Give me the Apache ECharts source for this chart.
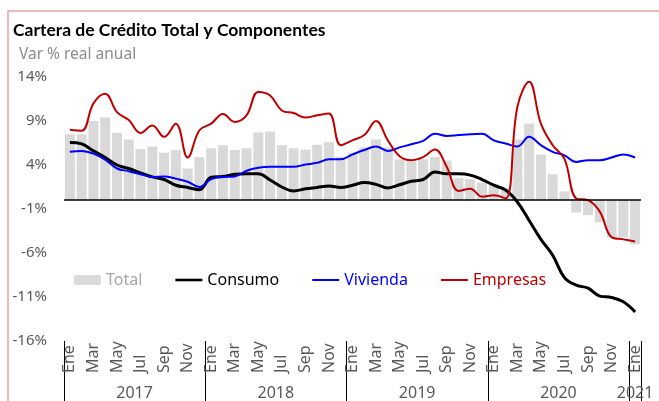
<!DOCTYPE html>
<html>
<head>
<meta charset="utf-8">
<script src="https://cdn.jsdelivr.net/npm/echarts@6/dist/echarts.min.js"></script>
<style>
  html, body { margin: 0; padding: 0; background: #fff; }
  #chart { width: 659px; height: 401px; }
</style>
</head>
<body>
<div id="chart"></div>
<script>
// meses Ene 2017 - Ene 2021
var monthNames = ['Ene', 'Feb', 'Mar', 'Abr', 'May', 'Jun', 'Jul', 'Ago', 'Sep', 'Oct', 'Nov', 'Dic']
var years = ['2017', '2018', '2019', '2020', '2021']
var months = []
for (var y = 0; y < 4; y++) {
  months = months.concat(monthNames)
}
months.push('Ene')

var yTicks = [-16, -11, -6, -1, 4, 9, 14]

var total = [
  7.5, 7.5, 9.0, 9.4, 7.65, 6.9, 5.8, 6.1, 5.4, 5.7, 3.6, 4.9,
  5.9, 6.25, 5.7, 5.9, 7.7, 7.8, 6.25, 5.9, 5.75, 6.3, 6.6, 4.9,
  5.4, 6.0, 6.9, 6.0, 4.65, 4.4, 4.65, 4.9, 4.5, 2.5, 2.4, 2.0,
  1.8, 1.3, 6.9, 8.7, 5.2, 2.95, 1.0, -1.4, -1.7, -2.5, -4.2, -4.2,
  -5.0
]
var consumo = [
  6.55, 6.4, 5.6, 4.85, 4.0, 3.6, 3.1, 2.65, 2.35, 1.7, 1.45, 1.2,
  2.6, 2.7, 2.95, 3.0, 3.0, 2.3, 1.5, 1.05, 1.3, 1.45, 1.6, 1.45,
  1.7, 2.0, 1.8, 1.4, 1.75, 2.15, 2.35, 3.2, 3.0, 3.0, 2.85, 2.35,
  1.7, 1.15, -0.2, -2.3, -4.45, -6.25, -8.8, -9.65, -10.0, -10.9, -11.05, -11.55,
  -12.7
]
var vivienda = [
  5.5, 5.6, 5.3, 4.6, 3.6, 3.3, 2.95, 2.65, 2.7, 2.45, 2.1, 1.5,
  2.4, 2.65, 2.7, 3.35, 3.7, 3.8, 3.8, 3.8, 4.05, 4.25, 4.65, 4.65,
  5.2, 5.7, 6.1, 5.6, 6.0, 6.35, 6.75, 7.55, 7.3, 7.4, 7.5, 7.55,
  6.8, 6.45, 6.1, 7.2, 6.25, 5.5, 5.1, 4.35, 4.55, 4.55, 4.85, 5.2,
  4.85
]
var empresas = [
  8.0, 7.9, 11.0, 12.1, 10.0, 9.1, 7.65, 8.5, 7.2, 8.7, 4.85, 7.95,
  8.7, 9.8, 8.9, 9.65, 12.3, 11.9, 10.2, 9.9, 9.4, 9.65, 9.85, 6.25,
  6.8, 7.4, 9.0, 6.8, 5.0, 4.55, 4.9, 5.75, 3.8, 1.05, 1.3, 0.4,
  0.55, 0.2, 10.6, 13.45, 8.7, 6.25, 4.7, 0.2, 0.0, -1.3, -4.2, -4.45,
  -4.7
]

var axisFont = 'Noto Sans'
var labelGrey = '#595959'
// icono de linea para la leyenda
var lineIcon = 'path://M0,0 H27 V2 H0 Z'
var thickLineIcon = 'path://M0,0 H27 V2.6 H0 Z'

var chart = echarts.init(document.getElementById('chart'))

chart.setOption({
  animation: false,
  graphic: [
    {
      type: 'polyline',
      silent: true,
      shape: { points: [[8, 401], [8, 11], [659, 11]] },
      style: { stroke: '#e8a3a3', lineWidth: 1.5, fill: null }
    }
  ],
  title: [
    {
      text: 'Cartera de Crédito Total y Componentes',
      left: 8,
      top: 16,
      textStyle: { fontFamily: 'Lato', fontWeight: 'bold', fontSize: 17.5, color: '#000' }
    },
    {
      text: 'Var % real anual',
      left: 14,
      top: 42,
      textStyle: { fontFamily: axisFont, fontWeight: 'normal', fontSize: 15.5, color: '#8c8c8c' }
    }
  ],
  legend: {
    left: 69,
    top: 267,
    itemWidth: 27,
    itemHeight: 10,
    itemGap: 33,
    textStyle: { fontFamily: axisFont, fontSize: 16 },
    data: [
      { name: 'Total', textStyle: { color: '#a6a6a6' } },
      { name: 'Consumo', icon: thickLineIcon, textStyle: { color: '#000' } },
      { name: 'Vivienda', icon: lineIcon, textStyle: { color: '#0000ff' } },
      { name: 'Empresas', icon: lineIcon, textStyle: { color: '#c00000' } }
    ]
  },
  grid: {
    left: 64,
    right: 18,
    top: 77,
    bottom: 60
  },
  xAxis: [
    {
      type: 'category',
      data: months,
      position: 'bottom',
      boundaryGap: true,
      axisLine: { show: false, onZero: false },
      axisTick: {
        show: true,
        length: 62,
        interval: function (i) { return i % 12 === 0 },
        lineStyle: { color: '#000', width: 1 }
      },
      axisLabel: {
        interval: 1,
        rotate: 90,
        align: 'left',
        margin: 32,
        color: labelGrey,
        fontFamily: axisFont,
        fontSize: 16
      }
    },
    {
      type: 'category',
      data: months,
      position: 'bottom',
      offset: 0,
      axisLine: { show: false, onZero: false },
      axisTick: { show: false },
      axisLabel: {
        interval: 0,
        margin: 44,
        color: labelGrey,
        fontFamily: axisFont,
        fontSize: 16,
        formatter: function (v, i) {
          if (i % 12 === 6) return '{y|' + years[Math.floor(i / 12)] + '}'
          if (i === 48) return '{z|' + years[4] + '}'
          return ''
        },
        rich: {
          y: { padding: [0, 12, 0, 0], color: labelGrey, fontFamily: axisFont, fontSize: 16 },
          z: { color: labelGrey, fontFamily: axisFont, fontSize: 16 }
        }
      }
    }
  ],
  yAxis: {
    type: 'value',
    min: yTicks[0],
    max: yTicks[yTicks.length - 1],
    interval: 5,
    splitLine: { show: false },
    axisLine: { show: false },
    axisTick: { show: false },
    axisLabel: {
      customValues: yTicks,
      margin: 17,
      color: labelGrey,
      fontFamily: axisFont,
      fontSize: 15,
      formatter: '{value}%'
    }
  },
  series: [
    {
      name: 'Total',
      type: 'bar',
      data: total,
      barCategoryGap: '15%',
      itemStyle: { color: '#d9d9d9' },
      markLine: {
        silent: true,
        symbol: 'none',
        label: { show: false },
        lineStyle: { color: '#000', width: 1.5, type: 'solid' },
        data: [{ yAxis: 0 }]
      }
    },
    {
      name: 'Consumo',
      type: 'line',
      data: consumo,
      smooth: 0.4,
      symbol: 'none',
      lineStyle: { color: '#000', width: 3 },
      itemStyle: { color: '#000' }
    },
    {
      name: 'Vivienda',
      type: 'line',
      data: vivienda,
      smooth: 0.4,
      symbol: 'none',
      lineStyle: { color: '#0000ff', width: 2 },
      itemStyle: { color: '#0000ff' }
    },
    {
      name: 'Empresas',
      type: 'line',
      data: empresas,
      smooth: 0.4,
      symbol: 'none',
      lineStyle: { color: '#c00000', width: 2 },
      itemStyle: { color: '#c00000' }
    }
  ]
})
</script>
</body>
</html>
